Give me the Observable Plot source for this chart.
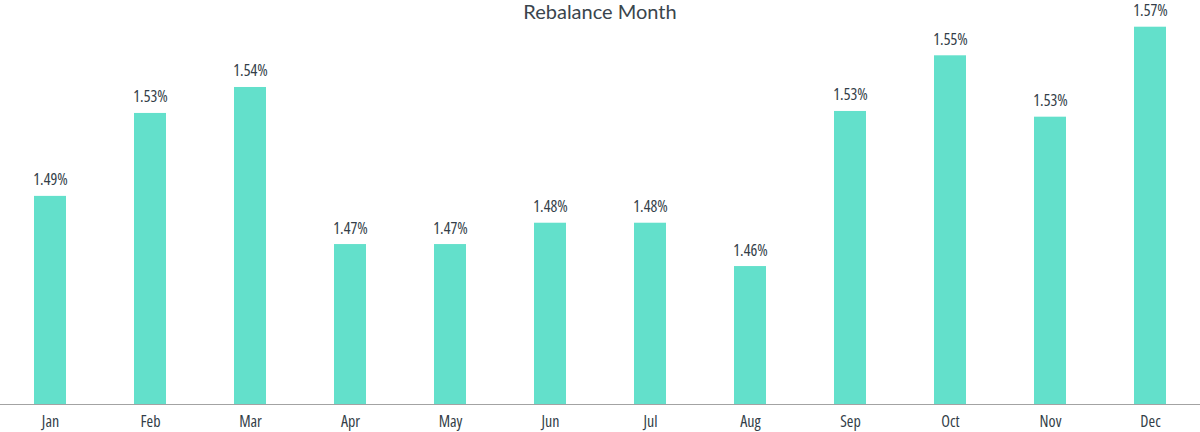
<!DOCTYPE html>
<html>
<head>
<meta charset="utf-8">
<script src="https://cdn.jsdelivr.net/npm/d3@7"></script>
<script src="https://cdn.jsdelivr.net/npm/@observablehq/plot@0.6"></script>
<style>
  body { margin: 0; background: #ffffff; }
  #wrap { position: relative; width: 1200px; height: 432px; }
  #title {
    position: absolute; left: 0; top: 0; width: 1200px; height: 24px;
    text-align: center; font-family: Lato, "Noto Sans", sans-serif; font-weight: 400;
    font-size: 20px; line-height: 23px; color: #3a454d;
  }
</style>
</head>
<body>
<div id="wrap">
  <div id="chart"></div>
  <div id="title">Rebalance Month</div>
</div>
<script>
const months = ["Jan", "Feb", "Mar", "Apr", "May", "Jun", "Jul", "Aug", "Sep", "Oct", "Nov", "Dec"];
const values = [1.4896, 1.5273, 1.5391, 1.4677, 1.4677, 1.4774, 1.4774, 1.4577, 1.5282, 1.5535, 1.5256, 1.5665];
const yDomain = [1.395, 1.575];

const data = months.map((m, i) => ({month: m, value: values[i]}));
const fmt = v => d3.format(".2f")(v) + "%";
const textColor = "#333e48";

const chart = Plot.plot({
  width: 1200,
  height: 432,
  marginTop: 8,
  marginBottom: 28,
  marginLeft: 0,
  marginRight: 0,
  style: {background: "#ffffff", fontFamily: "'Open Sans', sans-serif", fontStretch: "75%", fontWeight: 400, overflow: "visible"},
  x: {domain: months, paddingInner: 0.68, paddingOuter: 0.34, label: null},
  y: {domain: yDomain, axis: null},
  marks: [
    Plot.barY(data, {x: "month", y1: yDomain[0], y2: "value", fill: "#63e0cb"}),
    Plot.ruleY([yDomain[0]], {stroke: "#a3a3a3", strokeWidth: 1}),
    Plot.text(data, {x: "month", y: "value", text: d => fmt(d.value), dy: -11, lineAnchor: "bottom", fontSize: 16, fill: textColor}),
    Plot.axisX({tickSize: 0, tickPadding: 11, fontSize: 16, color: textColor, label: null})
  ]
});
document.getElementById("chart").appendChild(chart);
</script>
</body>
</html>
